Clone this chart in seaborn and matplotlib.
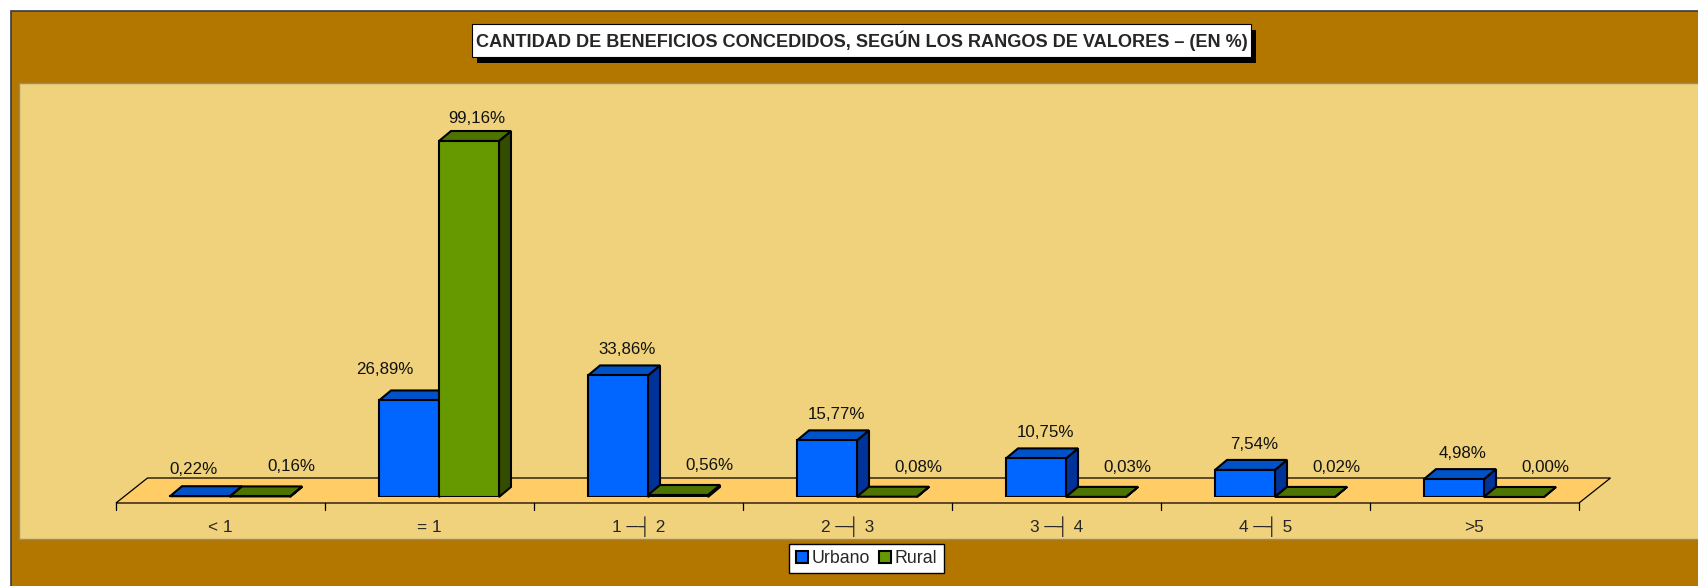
import numpy as np
import pandas as pd
import matplotlib
matplotlib.use("Agg")
import matplotlib.pyplot as plt
import seaborn as sns
from matplotlib.patches import Rectangle, Polygon, Patch

# data (percentages)
rangos = ["< 1", "= 1", "1 ─┤ 2", "2 ─┤ 3", "3 ─┤ 4", "4 ─┤ 5", ">5"]
urbano = [0.22, 26.89, 33.86, 15.77, 10.75, 7.54, 4.98]
rural = [0.16, 99.16, 0.56, 0.08, 0.03, 0.02, 0.00]
zonas = ["Urbano", "Rural"]
titulo = "CANTIDAD DE BENEFICIOS CONCEDIDOS, SEGÚN LOS RANGOS DE VALORES – (EN %)"

df = pd.DataFrame({
    "rango": rangos * 2,
    "pct": urbano + rural,
    "zona": [zonas[0]] * len(rangos) + [zonas[1]] * len(rangos),
})

# colours: front, top, side
c_front = {"Urbano": "#0066FF", "Rural": "#669900"}
c_top = {"Urbano": "#0052C8", "Rural": "#4D7300"}
c_side = {"Urbano": "#003399", "Rural": "#334D00"}
brown = "#B37700"
tan = "#EFD27B"
floor_c = "#FFCC66"

sns.set_style("white")
plt.rcParams["font.family"] = ["Liberation Sans", "DejaVu Sans"]

W, H = 1699, 586
fig = plt.figure(figsize=(W / 100, H / 100), dpi=100, facecolor="white")


def px_box(x0, y0, x1, y1):
    # pixel box (top-left origin) -> figure fraction rect
    return (x0 / W, 1 - y1 / H), (x1 - x0) / W, (y1 - y0) / H


# outer brown frame and tan plot area
xy, w, h = px_box(11, 11, W + 20, H + 20)
fig.add_artist(Rectangle(xy, w, h, transform=fig.transFigure, fc=brown,
                         ec="#3a3a3a", lw=1.2, zorder=-3))
xy, w, h = px_box(19, 83, W + 20, 539)
fig.add_artist(Rectangle(xy, w, h, transform=fig.transFigure, fc=tan,
                         ec="#8C8C8C", lw=1.0, zorder=-2))

# main axes: bar plane, y 0..100 %
ax_l, ax_b, ax_w, ax_h = 125.5, 89, 1463, 359
ax = fig.add_axes([ax_l / W, ax_b / H, ax_w / W, ax_h / H])
ax.patch.set_visible(False)
ux = ax_w / len(rangos)   # px per category
uy = ax_h / 100.0         # px per %

sns.barplot(data=df, x="rango", y="pct", hue="zona", order=rangos,
            hue_order=zonas, palette=[c_front[z] for z in zonas],
            width=0.574, saturation=1, edgecolor="black", linewidth=1.5,
            legend=False, ax=ax)
ax.set_xlim(-0.5, len(rangos) - 0.5)
ax.set_ylim(0, 100)

# 3d floor
fx0, fy0 = -9.5 / ux, -6 / uy
fx1, fy1 = 22 / ux, 19 / uy
floor = Polygon([(-0.5 + fx0, fy0), (len(rangos) - 0.5 + fx0, fy0),
                 (len(rangos) - 0.5 + fx1, fy1), (-0.5 + fx1, fy1)],
                closed=True, fc=floor_c, ec="black", lw=0.9, clip_on=False, zorder=0.5)
ax.add_patch(floor)
for b in np.arange(-0.5, len(rangos)):
    ax.plot([b + fx0, b + fx0], [fy0, -13 / uy], color="black", lw=0.9,
            clip_on=False, zorder=0.6)

# 3d faces + labels
dx, dy = 12 / ux, 10 / uy
for k, (zona, cont) in enumerate(zip(zonas, ax.containers)):
    vals = urbano if zona == "Urbano" else rural
    for i, (bar, v) in enumerate(zip(cont.patches, vals)):
        x0, bw, bh = bar.get_x(), bar.get_width(), bar.get_height()
        bar.set_zorder(3 + 2 * k)
        top = Polygon([(x0, bh), (x0 + bw, bh), (x0 + bw + dx, bh + dy), (x0 + dx, bh + dy)],
                      closed=True, fc=c_top[zona], ec="black", lw=1.5,
                      clip_on=False, zorder=2 + 2 * k)
        side = Polygon([(x0 + bw, 0), (x0 + bw + dx, dy), (x0 + bw + dx, bh + dy), (x0 + bw, bh)],
                       closed=True, fc=c_side[zona], ec="black", lw=1.5,
                       clip_on=False, zorder=2 + 2 * k)
        ax.add_patch(side)
        ax.add_patch(top)

        # label placement, roughly as Excel did it
        if zona == "Urbano":
            if v < 1:
                sx, sy = -7, 22
            elif rural[i] > v:
                sx, sy = -24, 26
            else:
                sx, sy = 9, 21
        else:
            if v < 1:
                sx, sy = 31, 25
            else:
                sx, sy = 8, 18
        txt = f"{v:.2f}%".replace(".", ",")
        ax.text(x0 + bw / 2 + sx / ux, bh + sy / uy, txt, ha="center",
                va="baseline", fontsize=12.2, color="#111111", zorder=8)

# category labels along the floor front edge
ax.set_xticks(np.arange(len(rangos)) + fx0, labels=rangos)
ax.tick_params(axis="x", length=0, pad=25, labelsize=12.4)
for lab in ax.get_xticklabels():
    lab.set_verticalalignment("baseline")
ax.set_yticks([])
ax.set_xlabel("")
ax.set_ylabel("")
sns.despine(ax=ax, left=True, bottom=True)

# title box with shadow
bx0, by0, bx1, by1 = 472, 24, 1251, 57
xy, w, h = px_box(bx0 + 5, by0 + 6, bx1 + 5, by1 + 6)
fig.add_artist(Rectangle(xy, w, h, transform=fig.transFigure, fc="black",
                         ec="none", zorder=1))
xy, w, h = px_box(bx0, by0, bx1, by1)
fig.add_artist(Rectangle(xy, w, h, transform=fig.transFigure, fc="white",
                         ec="black", lw=0.8, zorder=1.5))
fig.text((bx0 + bx1) / 2 / W, 1 - (by0 + by1) / 2 / H, titulo, ha="center",
         va="center", fontsize=13.1, fontweight="bold", zorder=2)

# legend
handles = [Patch(facecolor=c_front[z], edgecolor="black", linewidth=1.5, label=z)
           for z in zonas]
leg = fig.legend(handles=handles, loc="center", bbox_to_anchor=(866.5 / W, 27.5 / H),
                 ncol=2, frameon=True, fancybox=False, edgecolor="black",
                 framealpha=1, fontsize=12.8, handlelength=0.7, handleheight=0.7,
                 handletextpad=0.2, columnspacing=0.5, borderpad=0.35,
                 borderaxespad=0)
leg.set_zorder(5)

fig.savefig("out.png", dpi=100, facecolor="white")
